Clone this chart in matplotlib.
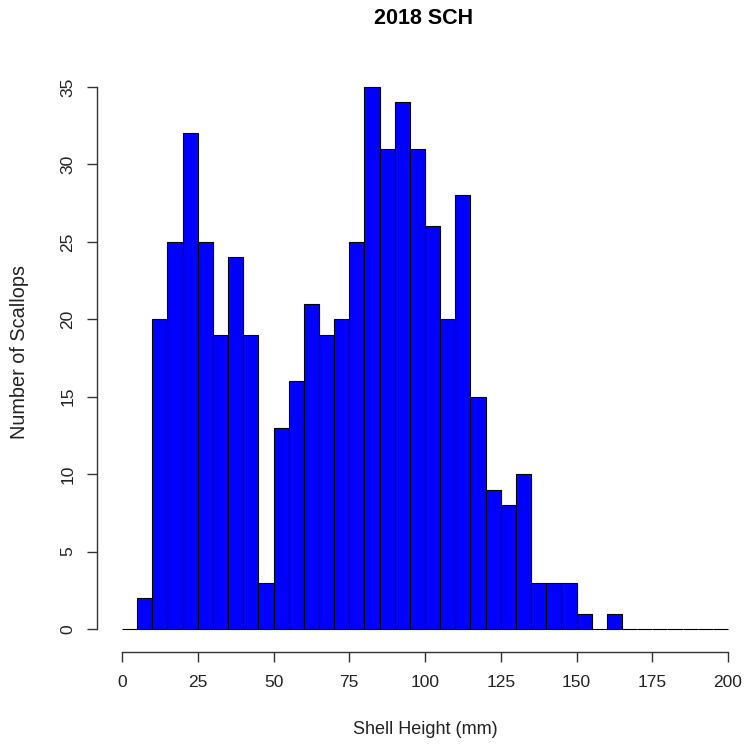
import numpy as np
import matplotlib.pyplot as plt

plt.rcParams['font.family'] = ['Liberation Sans', 'DejaVu Sans']

# 5 mm bins from 0 to 200
breaks = np.arange(0, 205, 5)
counts = [0, 2, 20, 25, 32, 25, 19, 24, 19, 3,
          13, 16, 21, 19, 20, 25, 35, 31, 34, 31,
          26, 20, 28, 15, 9, 8, 10, 3, 3, 3,
          1, 0, 1, 0, 0, 0, 0, 0, 0, 0]
xticks = [0, 25, 50, 75, 100, 125, 150, 175, 200]
yticks = [0, 5, 10, 15, 20, 25, 30, 35]

W, H = 745, 747
fig = plt.figure(figsize=(W / 100, H / 100), dpi=100)
ax = fig.add_axes([122 / W, 1 - 629 / H, (728 - 122) / W, (629 - 87) / H])

ax.bar(breaks[:-1], counts, width=5, align='edge', color='#0000ff',
       edgecolor='black', linewidth=0.8, clip_on=False)

ax.set_xlim(0, 200)
ax.set_ylim(0, 35)
for s in ['top', 'right']:
    ax.spines[s].set_visible(False)
ax.spines['left'].set_position(('outward', 18))
ax.spines['bottom'].set_position(('outward', 16.5))
ax.spines['left'].set_bounds(0, 35)
ax.spines['bottom'].set_bounds(0, 200)
for s in ['left', 'bottom']:
    ax.spines[s].set_linewidth(1.0)
    ax.spines[s].set_color('#333333')

ax.set_xticks(xticks)
ax.set_yticks(yticks)
ax.tick_params(length=7.5, width=1.0, color='#333333', labelsize=12.5,
               labelcolor='#222222')
ax.tick_params(axis='x', pad=9)
ax.tick_params(axis='y', pad=8)
for lab in ax.get_yticklabels():
    lab.set_rotation(90)
    lab.set_va('center')

fig.text(424 / W, 1 - 18 / H, '2018 SCH', ha='center', va='center',
         fontsize=15.5, fontweight='bold')
fig.text(425 / W, 1 - 730 / H, 'Shell Height (mm)', ha='center',
         va='center', fontsize=13, color='#222222')
fig.text(20 / W, 1 - 352 / H, 'Number of Scallops', ha='center',
         va='center', rotation=90, fontsize=14.3, color='#222222')

fig.savefig('out.png', dpi=100)
